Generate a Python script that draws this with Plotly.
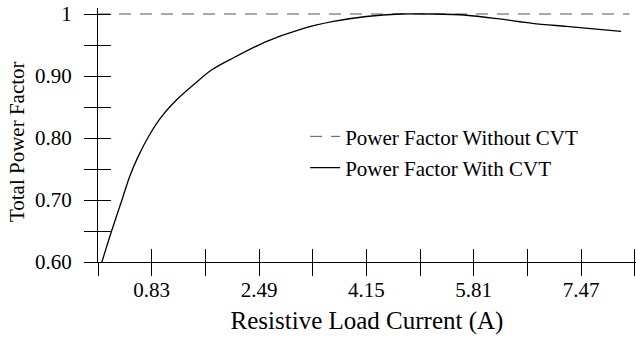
import plotly.graph_objects as go

# Data
current_with = [0.06, 0.21, 0.37, 0.49, 0.62, 0.78, 0.98, 1.24, 1.50, 1.76, 2.09, 2.61, 3.12,
                3.64, 4.15, 4.67, 5.18, 5.70, 6.21, 6.72, 7.24, 8.09]
pf_with = [0.600, 0.650, 0.700, 0.738, 0.770, 0.802, 0.834, 0.864, 0.888, 0.910, 0.929, 0.956, 0.975,
           0.988, 0.996, 1.000, 1.000, 0.998, 0.992, 0.985, 0.980, 0.972]
current_without = [0.0, 8.22]
pf_without = [1.0, 1.0]

x_tickvals = [0, 0.83, 1.66, 2.49, 3.32, 4.15, 4.98, 5.81, 6.64, 7.47, 8.30]
x_ticktext = ["", "0.83", "", "2.49", "", "4.15", "", "5.81", "", "7.47", ""]
y_tickvals = [0.60, 0.65, 0.70, 0.75, 0.80, 0.85, 0.90, 0.95, 1.00]
y_ticktext = ["0.60", "", "0.70", "", "0.80", "", "0.90", "", "1"]
x_title = "Resistive Load Current (A)"
y_title = "Total Power Factor"

FONT = "Liberation Serif, Times New Roman, serif"
CLEAR = "rgba(0,0,0,0)"

fig = go.Figure()
fig.add_trace(go.Scatter(
    x=current_without, y=pf_without, mode="lines",
    name="Power Factor Without CVT", legendgroup="a",
    line=dict(color="#555555", width=1, dash="12px,9px"),
))
fig.add_trace(go.Scatter(
    x=current_with, y=pf_with, mode="lines", line_shape="spline",
    name="Power Factor With CVT", legendgroup="b",
    line=dict(color="black", width=1.3, smoothing=0.8),
))
# empty traces hosting the overlay axes that draw the two halves of the crossing ticks
fig.add_trace(go.Scatter(x=[], y=[], xaxis="x2", yaxis="y2", showlegend=False, hoverinfo="skip"))
fig.add_trace(go.Scatter(x=[], y=[], xaxis="x3", yaxis="y3", showlegend=False, hoverinfo="skip"))

base = dict(showgrid=False, zeroline=False, showline=True, linecolor="black",
            linewidth=1.3, tickwidth=1.3, automargin=False)

fig.update_layout(
    width=636, height=342,
    margin=dict(l=98, r=0, t=8, b=80),
    paper_bgcolor="white", plot_bgcolor="white",
    font=dict(family=FONT, size=21, color="black"),
    # label-carrying axes (their tick marks are transparent, only set label distance)
    xaxis=dict(range=[0, 8.32], tickvals=x_tickvals, ticktext=x_ticktext, ticks="outside",
               ticklen=9, tickcolor=CLEAR,
               title=dict(text=x_title, standoff=10), **base),
    yaxis=dict(range=[0.6, 1.0097], tickvals=y_tickvals, ticktext=y_ticktext, ticks="outside",
               ticklen=21, tickcolor=CLEAR, **base),
    # inner halves of the ticks
    xaxis2=dict(overlaying="x", matches="x", anchor="y2", side="bottom", ticks="inside",
                ticklen=13, tickcolor="black", tickvals=x_tickvals, showticklabels=False, **base),
    yaxis2=dict(overlaying="y", matches="y", anchor="x2", side="left", ticks="inside",
                ticklen=13, tickcolor="black", tickvals=y_tickvals, showticklabels=False, **base),
    # outer halves of the ticks
    xaxis3=dict(overlaying="x", matches="x", anchor="y3", side="bottom", ticks="outside",
                ticklen=13, tickcolor="black", tickvals=x_tickvals, showticklabels=False, **base),
    yaxis3=dict(overlaying="y", matches="y", anchor="x3", side="left", ticks="outside",
                ticklen=13, tickcolor="black", tickvals=y_tickvals, showticklabels=False, **base),
    legend=dict(x=0.385, y=0.574, xanchor="left", yanchor="top", bgcolor=CLEAR,
                tracegroupgap=1, font=dict(family=FONT, size=21)),
    showlegend=True,
    annotations=[dict(text=y_title, xref="paper", yref="paper", x=-0.1506, y=0.476,
                      xanchor="center", yanchor="middle", textangle=-90, showarrow=False,
                      font=dict(family=FONT, size=21))],
)

fig.write_html("out.html", config={"displayModeBar": False},
               post_script="document.body.style.margin='0';")
